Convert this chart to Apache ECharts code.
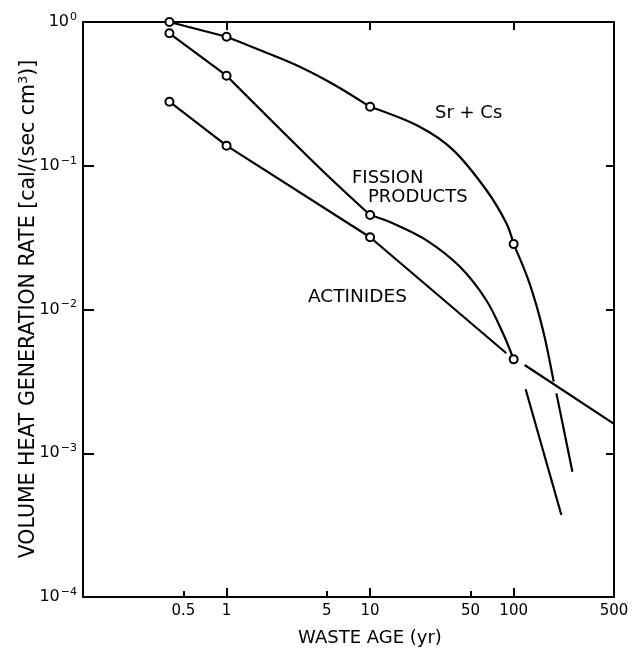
<!DOCTYPE html>
<html>
<head>
<meta charset="utf-8">
<script src="https://cdn.jsdelivr.net/npm/echarts@6/dist/echarts.min.js"></script>
<style>
  html, body { margin: 0; padding: 0; background: #fff; }
  #chart { width: 634px; height: 650px; }
</style>
</head>
<body>
<div id="chart"></div>
<script>
// Volume heat generation rate of high-level waste vs. waste age, log-log.
// Each point is [waste age (yr), rate (cal/(sec cm^3))].

// Computed points (drawn as open circles)
const srCsPoints     = [[0.4, 1.0], [1, 0.79], [10, 0.257], [100, 0.0285]];
const fissionPoints  = [[0.4, 0.834], [1, 0.423], [10, 0.0454], [100, 0.0045]];
const actinidePoints = [[0.4, 0.279], [1, 0.138], [10, 0.0318]];

// Faired curves through the points; the *Tail arrays resume after a crossing
const srCsCurve = [[0.4, 1.0], [1, 0.79], [1.7, 0.639], [3.23, 0.489], [5.66, 0.365], [10, 0.257],
  [22.1, 0.187], [37.8, 0.129], [64.5, 0.0678], [89, 0.0398], [100, 0.0285],
  [129, 0.0152], [160, 0.0072], [190, 0.00315]];
const srCsTail = [[198.5, 0.00261], [256.6, 0.000744]];

const fissionCurve = [[0.4, 0.834], [1, 0.423], [4.45, 0.0965], [10, 0.0454],
  [14.4, 0.0398], [24.6, 0.0304], [42.1, 0.0199], [64.5, 0.0116], [84.2, 0.00683], [100, 0.0045]];
const fissionTail = [[121.2, 0.00279], [215, 0.000372]];

const actinideCurve = [[0.4, 0.279], [1, 0.138], [10, 0.0318], [89, 0.00496]];
const actinideTail = [[119.3, 0.00411], [500, 0.0016]];

// Axis ticks and labels
const xTickValues = [0.5, 1, 5, 10, 50, 100, 500];
const xTickLabels = ['0.5', '1', '5', '10', '50', '100', '500'];
const xMajorTicks = [1, 10, 100];
const xMinorTicks = [0.5, 5, 50];
const yTickValues = [1, 0.1, 0.01, 0.001, 0.0001];
const yTickPowers = ['0', '\u22121', '\u22122', '\u22123', '\u22124'];
const yRightTicks = [0.1, 0.01, 0.001];

const FONT = 'DejaVu Sans';
const INK = '#000';

function findIndex(list, v) {
  return list.findIndex(t => Math.abs(Math.log10(t) - Math.log10(v)) < 1e-6);
}

// Split a curve at the computed points so the line may bend there
function splitAt(curve, points) {
  const xs = points.map(p => p[0]);
  const out = [];
  let cur = [curve[0]];
  for (let i = 1; i < curve.length; i++) {
    cur.push(curve[i]);
    if (xs.includes(curve[i][0]) && i < curve.length - 1) {
      out.push(cur);
      cur = [curve[i]];
    }
  }
  out.push(cur);
  return out;
}

function lineSeries(data) {
  return {
    type: 'line', data: data, smooth: 0.33, symbol: 'none',
    lineStyle: { color: INK, width: 2.2 }, z: 3, silent: true, animation: false
  };
}
function pointSeries(data) {
  return {
    type: 'scatter', data: data, symbol: 'circle', symbolSize: 8,
    itemStyle: { color: '#fff', borderColor: INK, borderWidth: 2, opacity: 1 },
    z: 5, clip: false, silent: true, animation: false
  };
}

const series = [];
[[srCsCurve, srCsPoints], [fissionCurve, fissionPoints], [actinideCurve, actinidePoints]]
  .forEach(([curve, pts]) => splitAt(curve, pts).forEach(seg => series.push(lineSeries(seg))));
[srCsTail, fissionTail, actinideTail].forEach(t => series.push(lineSeries(t)));
[srCsPoints, fissionPoints, actinidePoints].forEach(p => series.push(pointSeries(p)));

const axisLine = { show: true, onZero: false, lineStyle: { color: INK, width: 2 } };
const xBase = { type: 'log', logBase: 10, min: 0.1, max: 500, splitLine: { show: false }, minorTick: { show: false } };
const yBase = { type: 'log', logBase: 10, min: 0.0001, max: 1, splitLine: { show: false }, minorTick: { show: false } };

const textStyle = (size, align) => ({
  font: size + 'px "DejaVu Sans"', fill: INK,
  align: align, verticalAlign: 'middle', textAlign: align, textVerticalAlign: 'middle'
});

const option = {
  backgroundColor: '#fff',
  animation: false,
  grid: { left: 83, top: 22, width: 531, height: 575, containLabel: false },
  xAxis: [
    Object.assign({}, xBase, {
      position: 'bottom', axisLine: axisLine,
      axisTick: { show: true, inside: true, length: 9, customValues: xMajorTicks, lineStyle: { color: INK, width: 2 } },
      axisLabel: {
        show: true, customValues: xTickValues, margin: 7,
        fontFamily: FONT, fontSize: 15, color: INK,
        formatter: v => { const i = findIndex(xTickValues, v); return i < 0 ? '' : xTickLabels[i]; }
      }
    }),
    Object.assign({}, xBase, {
      position: 'bottom', axisLine: { show: false },
      axisTick: { show: true, inside: true, length: 6, customValues: xMinorTicks, lineStyle: { color: INK, width: 2 } },
      axisLabel: { show: false }
    }),
    Object.assign({}, xBase, {
      position: 'top', axisLine: axisLine,
      axisTick: { show: true, inside: true, length: 8, customValues: xMajorTicks, lineStyle: { color: INK, width: 2 } },
      axisLabel: { show: false }
    })
  ],
  yAxis: [
    Object.assign({}, yBase, {
      position: 'left', axisLine: axisLine,
      axisTick: { show: true, inside: true, length: 11, customValues: yTickValues, lineStyle: { color: INK, width: 2 } },
      axisLabel: {
        show: true, customValues: yTickValues, margin: 6,
        formatter: v => { const i = findIndex(yTickValues, v); return i < 0 ? '' : '{b|10}{s|' + yTickPowers[i] + '}'; },
        rich: {
          b: { fontFamily: FONT, fontSize: 16, color: INK },
          s: { fontFamily: FONT, fontSize: 11, color: INK, padding: [0, 0, 10, 1] }
        }
      }
    }),
    Object.assign({}, yBase, {
      position: 'right', axisLine: axisLine,
      axisTick: { show: true, inside: true, length: 8, customValues: yRightTicks, lineStyle: { color: INK, width: 2 } },
      axisLabel: { show: false }
    })
  ],
  graphic: [
    { type: 'text', x: 435, y: 113, silent: true, style: Object.assign({ text: 'Sr + Cs' }, textStyle(18, 'left')) },
    { type: 'text', x: 352, y: 178, silent: true, style: Object.assign({ text: 'FISSION' }, textStyle(18, 'left')) },
    { type: 'text', x: 368, y: 197, silent: true, style: Object.assign({ text: 'PRODUCTS' }, textStyle(18, 'left')) },
    { type: 'text', x: 308, y: 297, silent: true, style: Object.assign({ text: 'ACTINIDES' }, textStyle(18.5, 'left')) },
    { type: 'text', x: 370, y: 638, silent: true, style: Object.assign({ text: 'WASTE AGE (yr)' }, textStyle(18, 'center')) },
    { type: 'text', x: 29, y: 309, rotation: Math.PI / 2, silent: true,
      style: Object.assign({
        text: 'VOLUME HEAT GENERATION RATE [cal/(sec cm{s|3})]',
        rich: { s: { fontFamily: FONT, fontSize: 13, fill: INK, color: INK, padding: [0, 0, 11, 0] } }
      }, textStyle(20.5, 'center')) }
  ],
  series: series
};

const chart = echarts.init(document.getElementById('chart'), null, { renderer: 'canvas' });
chart.setOption(option);
</script>
</body>
</html>
